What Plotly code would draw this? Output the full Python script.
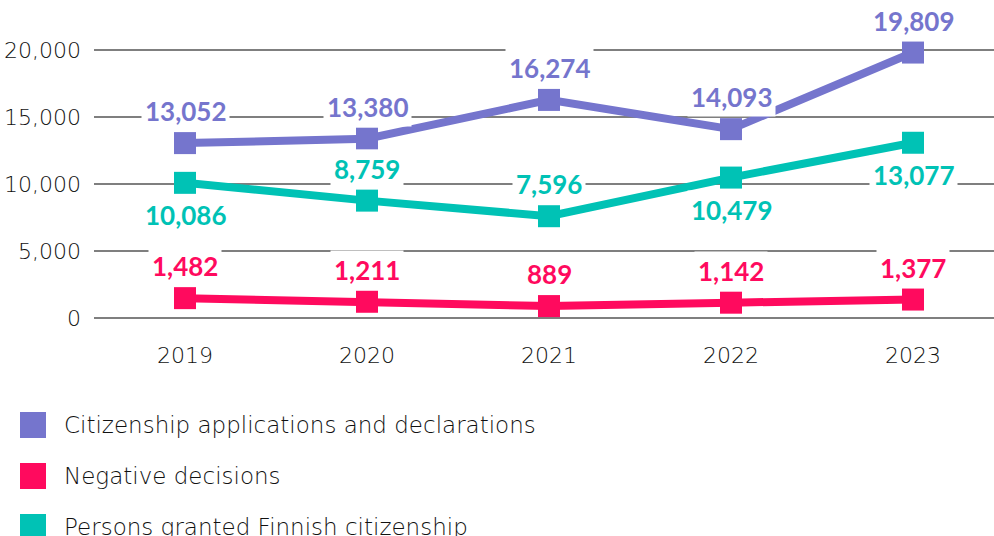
import plotly.graph_objects as go

years = ["2019", "2020", "2021", "2022", "2023"]
applications = [13052, 13380, 16274, 14093, 19809]
granted = [10086, 8759, 7596, 10479, 13077]
negative = [1482, 1211, 889, 1142, 1377]

series_names = [
    "Citizenship applications and declarations",
    "Negative decisions",
    "Persons granted Finnish citizenship",
]
colors = ["#7575CD", "#FF0A5E", "#00C2B5"]

# label placement: +1 above the point, -1 below
app_pos = [1, 1, 1, 1, 1]
granted_pos = [-1, 1, 1, -1, -1]
neg_pos = [1, 1, 1, 1, 1]

LABEL_FONT = "Lato"
TEXT_FONT = "DejaVu Sans"
x_idx = list(range(len(years)))

fig = go.Figure()
for vals, color in [(applications, colors[0]), (granted, colors[2]), (negative, colors[1])]:
    fig.add_trace(go.Scatter(
        x=x_idx, y=vals, mode="lines+markers",
        line=dict(color=color, width=8),
        marker=dict(symbol="square", size=22, color=color),
        showlegend=False, hoverinfo="skip",
    ))

annotations = []
for vals, pos, color in [(applications, app_pos, colors[0]),
                         (granted, granted_pos, colors[2]),
                         (negative, neg_pos, colors[1])]:
    for i, (v, p) in enumerate(zip(vals, pos)):
        annotations.append(dict(
            x=i, y=v, xref="x", yref="y", text=f"{v:,}", showarrow=False,
            yshift=32 * p, bgcolor="white", borderpad=3,
            font=dict(family=LABEL_FONT, size=26, color=color, weight="bold"),
        ))

# legend drawn as squares plus labels under the plot
legend_y = [425, 476, 527]
H = 536
shapes = []
for name, color, ly in zip(series_names, colors, legend_y):
    shapes.append(dict(type="rect", xref="paper", yref="paper",
                       x0=(20 - 94) / 900, x1=(46 - 94) / 900,
                       y0=(H - ly - 13 - 196) / 340, y1=(H - ly + 13 - 196) / 340,
                       fillcolor=color, line=dict(width=0)))
    annotations.append(dict(
        x=(62 - 94) / 900, y=(H - ly - 196) / 340, xref="paper", yref="paper",
        xanchor="left", yanchor="middle", text=name, showarrow=False,
        font=dict(family=TEXT_FONT, size=23, color="#111111", weight=300),
    ))

fig.update_layout(
    width=994, height=536,
    margin=dict(l=94, r=0, t=0, b=196),
    paper_bgcolor="white", plot_bgcolor="white",
    xaxis=dict(
        range=[-0.5, 4.445], tickmode="array", tickvals=x_idx, ticktext=years,
        showgrid=False, zeroline=False, showline=False, ticks="",
        tickfont=dict(family=TEXT_FONT, size=22, color="#111111", weight=300),
    ),
    yaxis=dict(
        range=[-1642, 23731], tickvals=[0, 5000, 10000, 15000, 20000],
        tickformat=",d", showgrid=True, gridcolor="#7f7f7f", gridwidth=1.5,
        zeroline=False, showline=False, ticks="", ticklabelstandoff=12,
        tickfont=dict(family=TEXT_FONT, size=22, color="#111111", weight=300),
    ),
    annotations=annotations, shapes=shapes,
)

fig.write_html("out.html")
